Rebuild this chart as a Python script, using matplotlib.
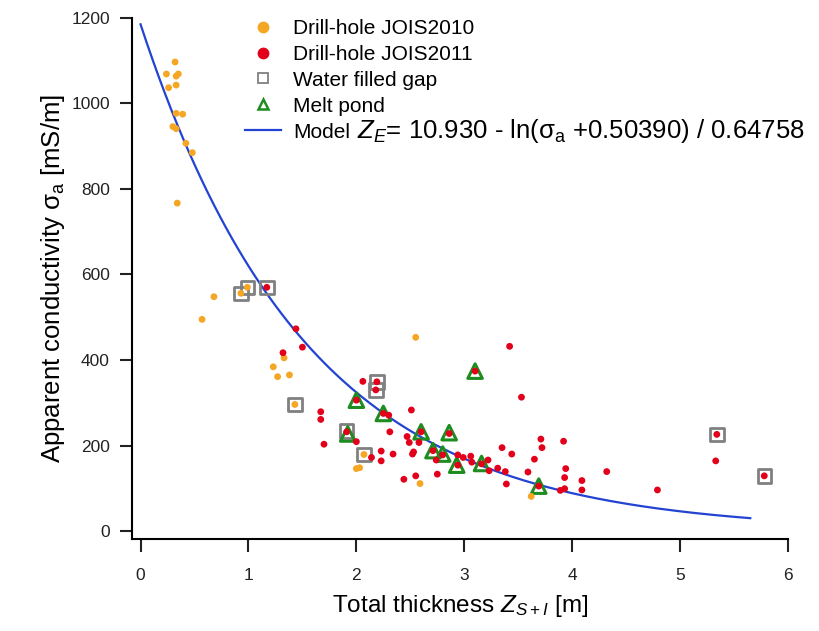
import numpy as np
import matplotlib
matplotlib.use("Agg")
import matplotlib.pyplot as plt
from matplotlib.lines import Line2D

plt.rcParams['font.family'] = ['Liberation Sans', 'DejaVu Sans']
plt.rcParams['mathtext.fontset'] = 'custom'
plt.rcParams['mathtext.rm'] = 'Liberation Sans'
plt.rcParams['mathtext.it'] = 'Liberation Sans:italic'

# drill-hole JOIS2010: total thickness [m], apparent conductivity [mS/m]
jois2010_z = [0.32, 0.24, 0.35, 0.33, 0.26, 0.33, 0.33, 0.39, 0.30, 0.33, 0.42, 0.48, 0.34,
              0.68, 0.57, 0.93, 0.99, 1.33, 1.23, 1.38, 1.27, 1.43, 2.55, 2.07, 2.00, 2.03,
              2.59, 3.62]
jois2010_s = [1097, 1069, 1069, 1064, 1037, 1043, 977, 975, 946, 941, 907, 885, 767,
              548, 495, 556, 570, 405, 384, 365, 361, 296, 453, 179, 146, 148,
              111, 81]

# drill-hole JOIS2011
jois2011_z = [1.17, 1.44, 1.50, 1.32, 1.67, 1.67, 1.70, 1.91, 2.00, 2.00, 2.06, 2.19, 2.18,
              2.25, 2.30, 2.31, 2.14, 2.23, 2.23, 2.34, 2.47, 2.49, 2.51, 2.52, 2.53, 2.58,
              2.60, 2.44, 2.55, 2.71, 2.74, 2.75, 2.80, 2.86, 2.94, 2.94, 2.99, 3.06, 3.07,
              3.10, 3.16, 3.22, 3.23, 3.31, 3.35, 3.38, 3.39, 3.42, 3.44, 3.53, 3.59, 3.65,
              3.69, 3.71, 3.72, 3.89, 3.92, 3.94, 3.93, 3.93, 4.09, 4.09, 4.32, 4.79, 5.34,
              5.33, 5.78]
jois2011_s = [570, 473, 430, 417, 279, 261, 203, 232, 306, 209, 350, 349, 330,
              275, 271, 232, 172, 187, 164, 180, 221, 207, 283, 180, 185, 207,
              232, 121, 129, 188, 166, 133, 178, 228, 154, 178, 172, 175, 161,
              374, 157, 166, 141, 147, 195, 139, 110, 432, 180, 313, 138, 168,
              105, 215, 195, 95, 210, 146, 125, 99, 118, 96, 139, 96, 226,
              164, 129]

# flagged sites
gap_z = [0.93, 0.99, 1.17, 1.43, 1.91, 2.07, 2.19, 2.18, 5.34, 5.78]
gap_s = [556, 570, 570, 296, 234, 179, 349, 330, 226, 129]
pond_z = [1.92, 2.00, 2.25, 2.60, 2.71, 2.80, 2.86, 2.93, 3.10, 3.16, 3.69]
pond_s = [227, 306, 275, 232, 188, 180, 230, 154, 374, 158, 105]

# empirical model  Z = a - ln(sigma + b) / c
a_coef, b_coef, c_coef = 10.930, 0.50390, 0.64758
z_model = np.linspace(0.0, 5.65, 200)
s_model = np.exp((a_coef - z_model) * c_coef) - b_coef

orange = '#F5A623'
red = '#E3001B'
green = '#1E8C1E'
grey = '#808080'
blue = '#2343D2'

fig = plt.figure(figsize=(8.2, 6.31), dpi=100)
ax = fig.add_axes([0.161, 0.1458, 0.800, 0.8257])

ax.plot(z_model, s_model, color=blue, lw=1.6, zorder=2)
ax.scatter(gap_z, gap_s, marker='s', s=95, facecolors='none', edgecolors=grey, linewidths=2.0, zorder=3)
ax.scatter(pond_z, pond_s, marker='^', s=110, facecolors='none', edgecolors=green, linewidths=2.2, zorder=3)
ax.scatter(jois2010_z, jois2010_s, s=24, color=orange, edgecolors='none', zorder=4)
ax.scatter(jois2011_z, jois2011_s, s=24, color=red, edgecolors='none', zorder=4)

ax.set_xlim(-0.079, 6.0)
ax.set_ylim(-18.7, 1200)
ax.set_xticks(range(0, 7))
ax.set_yticks(range(0, 1201, 200))
for side in ('top', 'right'):
    ax.spines[side].set_visible(False)
for side in ('left', 'bottom'):
    ax.spines[side].set_linewidth(1.5)
ax.tick_params(direction='out', length=9, width=1.5, labelsize=12.5, colors='#222222')
ax.tick_params(axis='x', pad=12)
ax.tick_params(axis='y', pad=7)

ax.set_xlabel('Total thickness $Z_{S+I}$ [m]', fontsize=17.5, labelpad=7)
ax.set_ylabel('Apparent conductivity σ$_{\\mathregular{a}}$ [mS/m]', fontsize=18.5, labelpad=3)

handles = [
    Line2D([], [], ls='none', marker='o', ms=8.5, mfc=orange, mec='none'),
    Line2D([], [], ls='none', marker='o', ms=8.5, mfc=red, mec='none'),
    Line2D([], [], ls='none', marker='s', ms=7, mfc='none', mec=grey, mew=1.3),
    Line2D([], [], ls='none', marker='^', ms=7, mfc='none', mec=green, mew=1.8),
    Line2D([], [], color=blue, lw=1.6),
]
labels = ['Drill-hole JOIS2010', 'Drill-hole JOIS2011', 'Water filled gap', 'Melt pond', 'Model']
fig.legend(handles, labels, loc='upper left', bbox_to_anchor=(245 / 820, 1 - 19 / 631),
           frameon=False, fontsize=15, handlelength=1.75, handletextpad=0.55,
           labelspacing=0.33, borderpad=0, borderaxespad=0)

fig.text(357 / 820, 1 - 131 / 631, '$Z_E$= 10.930 - ln(σ$_{\\mathregular{a}}$ +0.50390) / 0.64758',
         fontsize=18.5, va='center', ha='left')

fig.savefig('out.png', dpi=100)
